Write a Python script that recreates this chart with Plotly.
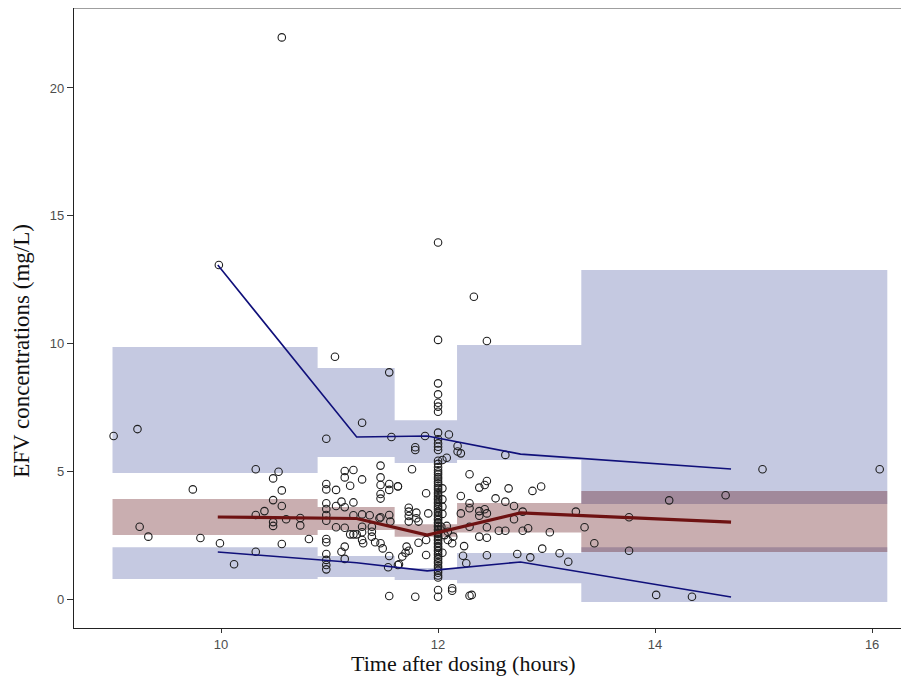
import plotly.graph_objects as go

# ---- bins (time ranges) and simulated percentile confidence intervals ----
bin_lo = [9.0, 10.89, 11.60, 12.175, 13.32]
bin_hi = [10.89, 11.60, 12.175, 13.32, 16.14]
p95_ci_lo = [4.93, 5.56, 5.32, 5.44, 3.72]
p95_ci_hi = [9.86, 9.04, 7.00, 9.94, 12.88]
p50_ci_lo = [2.50, 2.70, 2.44, 2.60, 1.84]
p50_ci_hi = [3.91, 3.60, 2.93, 3.76, 4.23]
p05_ci_lo = [0.78, 0.86, 0.74, 0.62, -0.12]
p05_ci_hi = [2.03, 1.68, 1.21, 1.80, 2.03]

# ---- observed percentiles ----
obs_bin_time = [9.97, 11.25, 11.90, 12.76, 14.70]
obs_p95 = [13.07, 6.34, 6.38, 5.67, 5.09]
obs_p50 = [3.21, 3.15, 2.50, 3.37, 3.01]
obs_p05 = [1.84, 1.42, 1.10, 1.45, 0.08]

# ---- observed concentrations ----
obs_time = [
    9.01, 9.23, 10.32, 10.53, 10.48, 9.74, 10.56, 10.48, 10.56, 10.40, 10.32, 10.48, 10.48,
    10.60, 10.73, 10.73, 9.25, 9.33, 9.81, 9.99, 10.81, 10.56, 10.32, 10.12, 9.98, 10.56,
    10.97, 11.05, 11.55, 11.30, 11.57, 11.88, 11.79, 11.79, 11.55, 11.79,
    11.47, 11.14, 11.22, 11.14, 11.30, 11.19, 11.47, 11.47, 11.55, 11.63, 11.55, 11.47, 11.47,
    10.97, 10.97, 11.06, 10.97, 10.97, 11.06, 11.11, 11.14, 11.22, 10.97, 10.97, 11.06, 11.14,
    11.22, 11.30, 11.37, 11.30, 11.30, 11.19, 11.22, 11.25, 11.39, 11.39, 11.39, 11.46, 11.47,
    11.55, 11.56, 10.97, 10.97, 11.14, 11.11, 11.30, 11.31, 11.42, 11.47, 11.49, 11.55,
    10.97, 10.97, 10.97, 10.97, 11.14, 11.54, 11.64,
    12.10, 12.18, 12.18, 12.21, 12.08, 12.04, 11.76, 11.63, 11.89, 12.04, 12.04, 12.04, 12.04,
    11.91, 11.73, 11.73, 11.73, 11.73, 11.80, 11.80, 11.82, 12.03, 12.08, 12.09, 12.06, 12.09,
    12.14, 12.13, 11.82, 11.89, 11.89, 11.71, 11.73, 11.70, 11.67, 11.63, 12.04, 12.13, 12.13,
    12.33, 12.45, 12.62, 12.29, 12.45, 12.43, 12.38, 12.65, 12.87, 12.95, 12.21, 12.53, 12.62,
    12.70, 12.29, 12.29, 12.21, 12.38, 12.38, 12.43, 12.45, 12.78, 12.70, 13.27, 12.45, 12.29,
    12.56, 12.62, 12.78, 12.83, 13.03, 13.35, 12.38, 12.45, 12.24, 12.23, 12.26, 12.45, 12.73,
    12.85, 12.96, 13.12, 13.20, 12.31, 12.29,
    13.44, 13.76, 13.76, 14.13, 14.65, 14.99, 16.07, 14.01, 14.34,
    12.0, 12.0, 12.0, 12.0, 12.0, 12.0, 12.0, 12.0, 12.0, 12.0, 12.0, 12.0, 12.0, 12.0,
    12.0, 12.0, 12.0, 12.0, 12.0, 12.0, 12.0, 12.0, 12.0, 12.0, 12.0, 12.0, 12.0, 12.0,
    12.0, 12.0, 12.0, 12.0, 12.0, 12.0, 12.0, 12.0, 12.0, 12.0, 12.0, 12.0, 12.0, 12.0,
    12.0, 12.0, 12.0, 12.0, 12.0, 12.0, 12.0, 12.0, 12.0, 12.0, 12.0, 12.0, 12.0, 12.0,
    12.0, 12.0, 12.0, 12.0, 12.0, 12.0, 12.0, 12.0, 12.0, 12.0, 12.0, 12.0, 12.0, 12.0,
    12.0, 12.0, 12.0,
]
obs_conc = [
    6.38, 6.65, 5.08, 4.98, 4.72, 4.29, 4.25, 3.87, 3.64, 3.44, 3.29, 3.01, 2.86,
    3.12, 3.17, 2.88, 2.83, 2.44, 2.39, 2.18, 2.35, 2.15, 1.85, 1.36, 13.07, 21.98,
    6.27, 9.48, 8.87, 6.90, 6.34, 6.38, 5.94, 5.83, 0.12, 0.09,
    5.22, 5.01, 5.05, 4.76, 4.68, 4.43, 4.76, 4.46, 4.50, 4.41, 4.27, 4.11, 3.93,
    4.50, 4.29, 4.27, 3.75, 3.52, 3.64, 3.81, 3.59, 3.78, 3.29, 3.06, 2.81, 2.79,
    3.28, 3.31, 3.28, 2.83, 2.61, 2.53, 2.53, 2.53, 2.83, 2.63, 2.44, 3.16, 3.20,
    3.29, 3.03, 2.35, 2.22, 2.05, 1.85, 2.31, 2.18, 2.22, 2.18, 1.98, 1.68,
    1.76, 1.53, 1.33, 1.16, 1.57, 1.24, 1.36,
    6.44, 5.99, 5.77, 5.70, 5.53, 5.44, 5.08, 4.40, 4.14, 4.33, 3.90, 3.61, 3.33,
    3.35, 3.57, 3.42, 3.25, 3.03, 3.38, 3.16, 3.03, 2.83, 2.86, 2.63, 2.50, 2.31,
    2.44, 2.18, 2.20, 2.31, 1.72, 2.05, 1.89, 1.81, 1.66, 1.33, 1.81, 0.42, 0.32,
    11.83, 10.10, 5.64, 4.88, 4.62, 4.46, 4.36, 4.33, 4.23, 4.40, 4.03, 3.94, 3.81,
    3.64, 3.75, 3.55, 3.35, 3.44, 3.26, 3.51, 3.35, 3.42, 3.12, 3.42, 2.81, 2.83,
    2.67, 2.67, 2.67, 2.77, 2.61, 2.81, 2.44, 2.40, 2.07, 1.69, 1.40, 1.71, 1.76,
    1.63, 1.97, 1.79, 1.46, 0.16, 0.13,
    2.18, 3.20, 1.89, 3.86, 4.06, 5.08, 5.08, 0.16, 0.09,
    13.95, 10.14, 8.44, 8.01, 7.68, 7.53, 7.33, 6.51, 6.25, 6.09, 5.96, 5.83, 0.35, 0.09,
    5.41, 5.29, 5.16, 5.04, 4.95, 4.87, 4.77, 4.70, 4.60, 4.53, 4.43, 4.35, 4.28, 4.18,
    4.11, 4.02, 3.94, 3.88, 3.79, 3.73, 3.64, 3.58, 3.51, 3.42, 3.37, 3.29, 3.23, 3.14,
    3.09, 3.00, 2.96, 2.87, 2.82, 2.73, 2.69, 2.60, 2.56, 2.47, 2.42, 2.34, 2.29, 2.20,
    2.15, 2.06, 2.01, 1.92, 1.87, 1.78, 1.72, 1.62, 1.56, 1.46, 1.40, 1.29, 1.22, 1.11,
    1.03, 0.92, 0.84,
]

x_ticks = [10, 12, 14, 16]
y_ticks = [0, 5, 10, 15, 20]
x_title = "Time after dosing (hours)"
y_title = "EFV concentrations (mg/L)"

BLUE_FILL = "rgba(23,39,135,0.25)"
RED_FILL = "rgba(86,2,8,0.32)"

fig = go.Figure()


def add_band(lo, hi, color):
    xs, ys = [], []
    for i in range(len(bin_lo)):
        xs += [bin_lo[i], bin_hi[i], bin_hi[i], bin_lo[i], bin_lo[i], None]
        ys += [lo[i], lo[i], hi[i], hi[i], lo[i], None]
    fig.add_trace(go.Scatter(x=xs, y=ys, mode="lines", fill="toself",
                             fillcolor=color, line=dict(width=0),
                             hoverinfo="skip", showlegend=False))


add_band(p95_ci_lo, p95_ci_hi, BLUE_FILL)
add_band(p05_ci_lo, p05_ci_hi, BLUE_FILL)
add_band(p50_ci_lo, p50_ci_hi, RED_FILL)

fig.add_trace(go.Scatter(x=obs_time, y=obs_conc, mode="markers",
                         marker=dict(symbol="circle-open", size=7.5,
                                     color="#1E1E1E", line=dict(width=1.1)),
                         showlegend=False))

fig.add_trace(go.Scatter(x=obs_bin_time, y=obs_p95, mode="lines",
                         line=dict(color="#10107A", width=1.6), showlegend=False))
fig.add_trace(go.Scatter(x=obs_bin_time, y=obs_p05, mode="lines",
                         line=dict(color="#10107A", width=1.6), showlegend=False))
fig.add_trace(go.Scatter(x=obs_bin_time, y=obs_p50, mode="lines",
                         line=dict(color="#6E1212", width=3.2), showlegend=False))

# top frame line
fig.add_shape(type="line", xref="paper", yref="paper", x0=0, x1=1, y0=1, y1=1,
              line=dict(color="#7F7F7F", width=1.5))

# axis titles (the source figure was cropped, so they sit off-centre)
fig.add_annotation(text=x_title, xref="paper", yref="paper", x=0.466, y=0,
                   yshift=-35, xanchor="center", yanchor="middle", showarrow=False,
                   font=dict(family="Liberation Serif", size=22, color="#111111"))
fig.add_annotation(text=y_title, xref="paper", yref="paper", x=0, y=0.447,
                   xshift=-52, xanchor="center", yanchor="middle", textangle=-90,
                   showarrow=False,
                   font=dict(family="Liberation Serif", size=23, color="#111111"))

# The page body has an 8 px margin, so the figure is sized to fill the rest.
fig.update_layout(
    width=901, height=672,
    margin=dict(l=66, r=0, t=0, b=52, autoexpand=False),
    paper_bgcolor="white", plot_bgcolor="white",
    xaxis=dict(range=[8.645, 16.34], tickvals=x_ticks, ticks="outside", ticklen=4,
               tickcolor="#333333", showgrid=False, zeroline=False,
               showline=True, linecolor="#222222", linewidth=1.2,
               tickfont=dict(family="Liberation Sans", size=13, color="#4D4D4D")),
    yaxis=dict(range=[-1.135, 23.13], tickvals=y_ticks, ticks="outside", ticklen=6,
               tickcolor="#333333", showgrid=False, zeroline=False,
               showline=True, linecolor="#222222", linewidth=1.2,
               tickfont=dict(family="Liberation Sans", size=13, color="#4D4D4D")),
)

fig.write_html("out.html")
